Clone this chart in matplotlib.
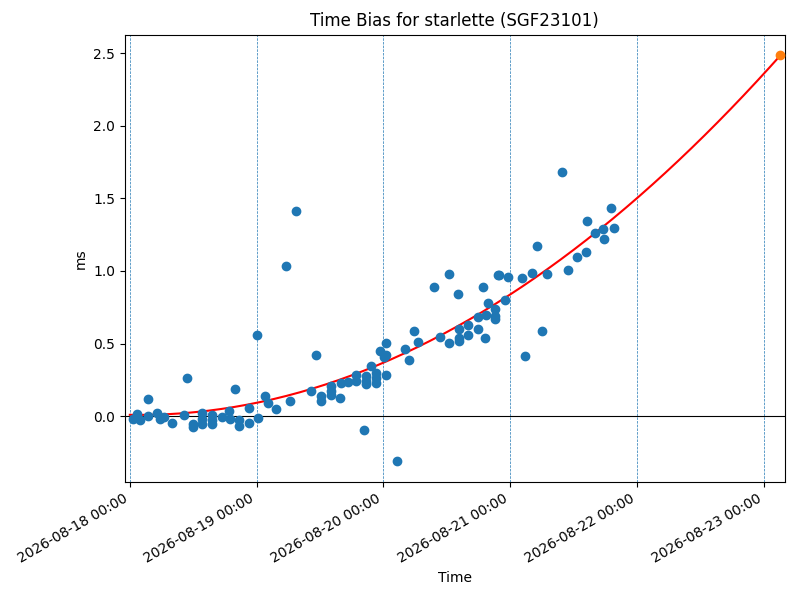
import numpy as np
import matplotlib
matplotlib.use('Agg')
import matplotlib.pyplot as plt
import matplotlib.dates as mdates
import pandas as pd

# Начало отсчёта и измерения (часы от начала, смещение в мс)
START = pd.Timestamp('2026-08-18 00:00')
hours = [0.62, 1.38, 1.99, 3.35, 3.46, 5.11, 5.62, 6.38, 8.04, 10.22,
         10.85, 11.98, 11.98, 13.66, 13.66, 13.66, 15.58, 15.58, 15.58, 17.36,
         18.79, 18.93, 20.0, 20.69, 20.69, 22.58, 22.58, 24.09, 24.36, 25.59,
         26.21, 27.73, 29.58, 30.32, 31.48, 34.30, 35.30, 36.21, 36.21, 38.08,
         38.08, 38.08, 39.84, 39.97, 41.32, 42.91, 42.91, 44.35, 44.80, 44.80,
         44.80, 45.61, 46.62, 46.62, 46.62, 47.36, 48.45, 48.15, 48.55, 48.51,
         50.50, 52.09, 52.86, 53.75, 54.64, 57.58, 58.73, 60.43, 60.43, 62.14,
         62.33, 62.33, 62.33, 64.03, 64.03, 65.92, 65.92, 66.87, 67.25, 67.42,
         67.82, 69.14, 69.14, 69.14, 69.61, 69.90, 71.03, 71.60, 74.25, 74.82,
         76.14, 77.07, 78.04, 78.93, 81.82, 82.96, 84.66, 86.36, 86.55, 88.07,
         89.58, 89.77, 91.10, 91.66]
bias = [-0.019, 0.012, -0.023, 0.003, 0.116, 0.023, -0.017, -0.009, -0.044, 0.009,
        0.260, -0.055, -0.075, 0.021, -0.021, -0.055, 0.007, -0.023, -0.057, -0.009,
        0.037, -0.021, 0.186, -0.028, -0.069, 0.053, -0.050, 0.558, -0.016, 0.138,
        0.090, 0.046, 1.036, 0.107, 1.416, 0.173, 0.419, 0.138, 0.104, 0.207,
        0.173, 0.148, 0.122, 0.226, 0.237, 0.281, 0.240, -0.092, 0.276, 0.244,
        0.219, 0.343, 0.295, 0.260, 0.226, 0.449, 0.503, 0.404, 0.421, 0.281,
        -0.312, 0.461, 0.387, 0.585, 0.510, 0.891, 0.544, 0.979, 0.504, 0.841,
        0.599, 0.537, 0.518, 0.627, 0.559, 0.684, 0.599, 0.891, 0.539, 0.698,
        0.778, 0.739, 0.687, 0.666, 0.972, 0.972, 0.800, 0.958, 0.952, 0.413,
        0.986, 1.173, 0.586, 0.979, 1.683, 1.006, 1.096, 1.131, 1.345, 1.262,
        1.289, 1.220, 1.434, 1.296]

# Прогноз в конце интервала
pred_hour = 123.0
pred_bias = 2.486

# Коэффициенты квадратичной аппроксимации (мс от суток)
fit_coef = [0.0967, -0.014, 0.0093]

t = START + pd.to_timedelta(hours, unit='h')
t_pred = START + pd.Timedelta(hours=pred_hour)

days_fit = np.linspace(0, pred_hour / 24, 200)
t_fit = START + pd.to_timedelta(days_fit, unit='D')
y_fit = np.polyval(fit_coef, days_fit)

fig, axes = plt.subplots(figsize=(8, 6), dpi=100)

for d in pd.date_range('2026-08-18', '2026-08-23', freq='D'):
    axes.axvline(d, linestyle='--', linewidth=0.5, color='C0')
axes.axhline(0, color='black', linewidth=0.8)

axes.scatter(t, bias, color='C0', zorder=3)
axes.plot(t_fit, y_fit, color='red', linewidth=1.5, zorder=2)
axes.scatter([t_pred], [pred_bias], color='C1', zorder=3)

axes.set_xlim(START - pd.Timedelta(hours=0.95), START + pd.Timedelta(hours=124.0))
axes.xaxis.set_major_locator(mdates.DayLocator())
axes.xaxis.set_major_formatter(mdates.DateFormatter('%Y-%m-%d %H:%M'))
fig.autofmt_xdate()
fig.subplots_adjust(left=0.156, right=0.981, top=0.942, bottom=0.197)

axes.set_title('Time Bias for starlette (SGF23101)')
axes.set_xlabel('Time')
axes.set_ylabel('ms')

fig.savefig('out.png')
